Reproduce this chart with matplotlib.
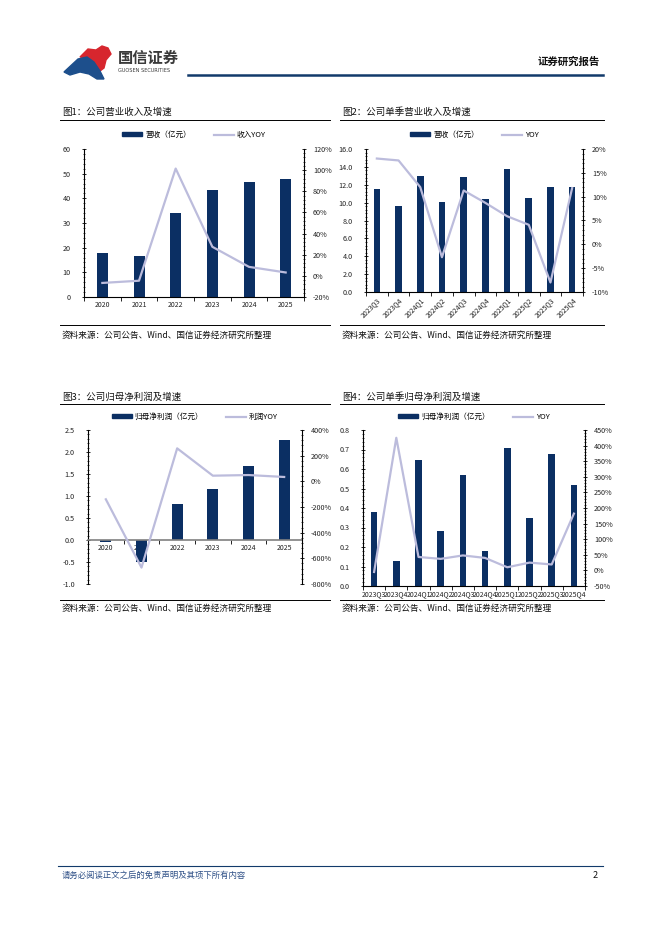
import numpy as np
import matplotlib
matplotlib.use('Agg')
import matplotlib.pyplot as plt
from matplotlib.patches import Polygon, Patch
from matplotlib.lines import Line2D
from matplotlib.ticker import AutoMinorLocator, FixedLocator, FuncFormatter

plt.rcParams['font.family'] = ['Noto Sans CJK SC', 'DejaVu Sans']
plt.rcParams['axes.unicode_minus'] = False

# ---- data ----
years = ['2020', '2021', '2022', '2023', '2024', '2025']
quarters = ['2023Q3', '2023Q4', '2024Q1', '2024Q2', '2024Q3', '2024Q4',
            '2025Q1', '2025Q2', '2025Q3', '2025Q4']

revenue = [17.8, 16.8, 33.9, 43.4, 46.6, 47.9]
revenue_yoy = [-6.7, -4.6, 101.5, 27.5, 8.5, 3.2]

q_revenue = [11.5, 9.6, 13.0, 10.1, 12.9, 10.4, 13.8, 10.5, 11.75, 11.7]
q_revenue_yoy = [18.0, 17.6, 12.0, -2.7, 11.3, 8.7, 5.9, 4.1, -8.0, 11.8]

profit = [-0.05, -0.51, 0.82, 1.16, 1.69, 2.27]
profit_yoy = [-140, -672, 257, 44, 49, 34]

q_profit = [0.377, 0.127, 0.645, 0.281, 0.568, 0.178, 0.707, 0.351, 0.677, 0.516]
q_profit_yoy = [-5, 425, 43, 37, 48, 40, 10, 25, 19, 182]

BAR = '#0b2f63'
LINE = '#bcbcdc'
NAVY = '#123a6b'
W, H = 662, 936

fig = plt.figure(figsize=(W / 100, H / 100), dpi=100)

# background axes in pixel coordinates for page decoration
bg = fig.add_axes([0, 0, 1, 1])
bg.set_xlim(0, W)
bg.set_ylim(H, 0)
bg.axis('off')


def rect(left, top, right, bottom):
    return [left / W, 1 - bottom / H, (right - left) / W, (bottom - top) / H]


def pct(v, pos):
    return '%d%%' % v


def draw_chart(box, cats, bars, yoy, ylim, ystep, rlim, rstep, lfmt,
               bar_label, line_label, legend_y, rotate=False, zero_axis=False):
    ax = fig.add_axes(rect(*box))
    x = np.arange(len(cats))
    ax.bar(x, bars, width=0.3, color=BAR, zorder=2)
    ax.set_xlim(-0.5, len(cats) - 0.5)
    ax.set_ylim(*ylim)
    ax.set_yticks(np.arange(ylim[0], ylim[1] + ystep / 2, ystep))
    ax.yaxis.set_major_formatter(FuncFormatter(lambda v, p: lfmt % v))
    ax.yaxis.set_minor_locator(AutoMinorLocator(5))
    ax.set_xticks(x)
    if rotate:
        ax.set_xticklabels(cats, rotation=45, ha='right', rotation_mode='anchor')
    else:
        ax.set_xticklabels(cats)
    ax.xaxis.set_minor_locator(FixedLocator(np.arange(-0.5, len(cats), 1.0)))
    ax.tick_params(axis='x', which='major', length=0, labelsize=5, pad=3,
                   labelcolor='#222222')
    ax.tick_params(axis='x', which='minor', length=3, width=0.6, direction='out')
    ax.tick_params(axis='y', which='major', length=3, width=0.6,
                   direction='inout', labelsize=5.2, pad=8, labelcolor='#222222')
    ax.tick_params(axis='y', which='minor', length=2, width=0.5, direction='inout')
    ax.spines['top'].set_visible(False)
    ax.spines['right'].set_visible(False)
    for s in ('left', 'bottom'):
        ax.spines[s].set_linewidth(0.8)
    if zero_axis:
        ax.spines['bottom'].set_position(('data', 0))
        ax.spines['bottom'].set_color('#808080')
        ax.spines['bottom'].set_linewidth(1.2)
        ax.set_axisbelow(True)
    ax.set_facecolor('none')

    ax2 = ax.twinx()
    ax2.plot(x, yoy, color=LINE, lw=1.6, zorder=3)
    ax2.set_ylim(*rlim)
    ax2.set_yticks(np.arange(rlim[0], rlim[1] + rstep / 2, rstep))
    ax2.yaxis.set_major_formatter(FuncFormatter(pct))
    ax2.yaxis.set_minor_locator(AutoMinorLocator(5))
    ax2.tick_params(axis='y', which='major', length=3, width=0.6,
                    direction='inout', labelsize=5.2, pad=5, labelcolor='#222222')
    ax2.tick_params(axis='y', which='minor', length=2, width=0.5, direction='inout')
    for s in ('top', 'left', 'bottom'):
        ax2.spines[s].set_visible(False)
    ax2.spines['right'].set_linewidth(0.8)

    handles = [Patch(color=BAR), Line2D([], [], color=LINE, lw=1.6)]
    cx = (box[0] + box[2]) / 2 / W
    fig.legend(handles, [bar_label, line_label], loc='center',
               bbox_to_anchor=(cx, 1 - legend_y / H), ncol=2, frameon=False,
               fontsize=5.5, handlelength=2.6, handleheight=0.5,
               columnspacing=3.0, handletextpad=0.4)
    return ax, ax2


draw_chart((84, 149, 304, 297), years, revenue, revenue_yoy,
           (0, 60), 10, (-20, 120), 20, '%d',
           '营收（亿元）', '收入YOY', 135)
draw_chart((366, 149, 583, 292), quarters, q_revenue, q_revenue_yoy,
           (0, 16), 2, (-10, 20), 5, '%.1f',
           '营收（亿元）', 'YOY', 135, rotate=True)
draw_chart((88, 430, 302, 584), years, profit, profit_yoy,
           (-1.0, 2.5), 0.5, (-800, 400), 200, '%.1f',
           '归母净利润（亿元）', '利润YOY', 417, zero_axis=True)
draw_chart((363, 430, 585, 586), quarters, q_profit, q_profit_yoy,
           (0, 0.8), 0.1, (-50, 450), 50, '%.1f',
           '归母净利润（亿元）', 'YOY', 417)

# ---- page header ----
bg.add_patch(Polygon([(80, 57), (88, 49), (96, 50), (102, 46), (108, 48),
                      (111, 54), (106, 60), (104, 68), (100, 71), (94, 63), (86, 58)],
                     closed=True, color='#d7262e'))
bg.add_patch(Polygon([(64, 72), (78, 59), (87, 57), (94, 62), (100, 71),
                      (104, 79), (97, 79), (89, 74), (80, 72), (70, 75)],
                     closed=True, color='#1d4f8c'))
bg.text(118, 58, '国信证券', fontsize=11, color='#3a3a3a', va='center', fontweight='bold')
bg.text(118, 71, 'GUOSEN SECURITIES', fontsize=3.6, color='#3a3a3a', va='center',
        family='DejaVu Sans')
bg.plot([188, 603], [74.5, 74.5], color=NAVY, lw=1.8)
bg.text(600, 62, '证券研究报告', fontsize=7.5, fontweight='bold', ha='right',
        va='center', color='#111111')

# ---- chart titles and sources ----
titles = [(62, 112, '图1：公司营业收入及增速'), (342, 112, '图2：公司单季营业收入及增速'),
          (62, 397, '图3：公司归母净利润及增速'), (342, 397, '图4：公司单季归母净利润及增速')]
for tx, ty, t in titles:
    bg.text(tx, ty, t, fontsize=6.8, va='center', color='#111111')
for x0, x1 in ((60, 330), (340, 604)):
    bg.plot([x0, x1], [119.5, 119.5], color='black', lw=0.7)
    bg.plot([x0, x1], [325, 325], color='black', lw=0.7)
    bg.plot([x0, x1], [404, 404], color='black', lw=0.7)
    bg.plot([x0, x1], [600, 600], color='black', lw=0.7)
src = '资料来源：公司公告、Wind、国信证券经济研究所整理'
for sx, sy in ((62, 335), (342, 335), (62, 608), (342, 608)):
    bg.text(sx, sy, src, fontsize=6.2, va='center', color='#111111')

# ---- footer ----
bg.plot([58, 603], [866, 866], color=NAVY, lw=0.8)
bg.text(62, 875, '请务必阅读正文之后的免责声明及其项下所有内容', fontsize=6,
        color='#2d4f86', va='center', style='italic')
bg.text(598, 875, '2', fontsize=6.5, va='center', ha='right', color='#111111')

fig.savefig('out.png', dpi=100)
